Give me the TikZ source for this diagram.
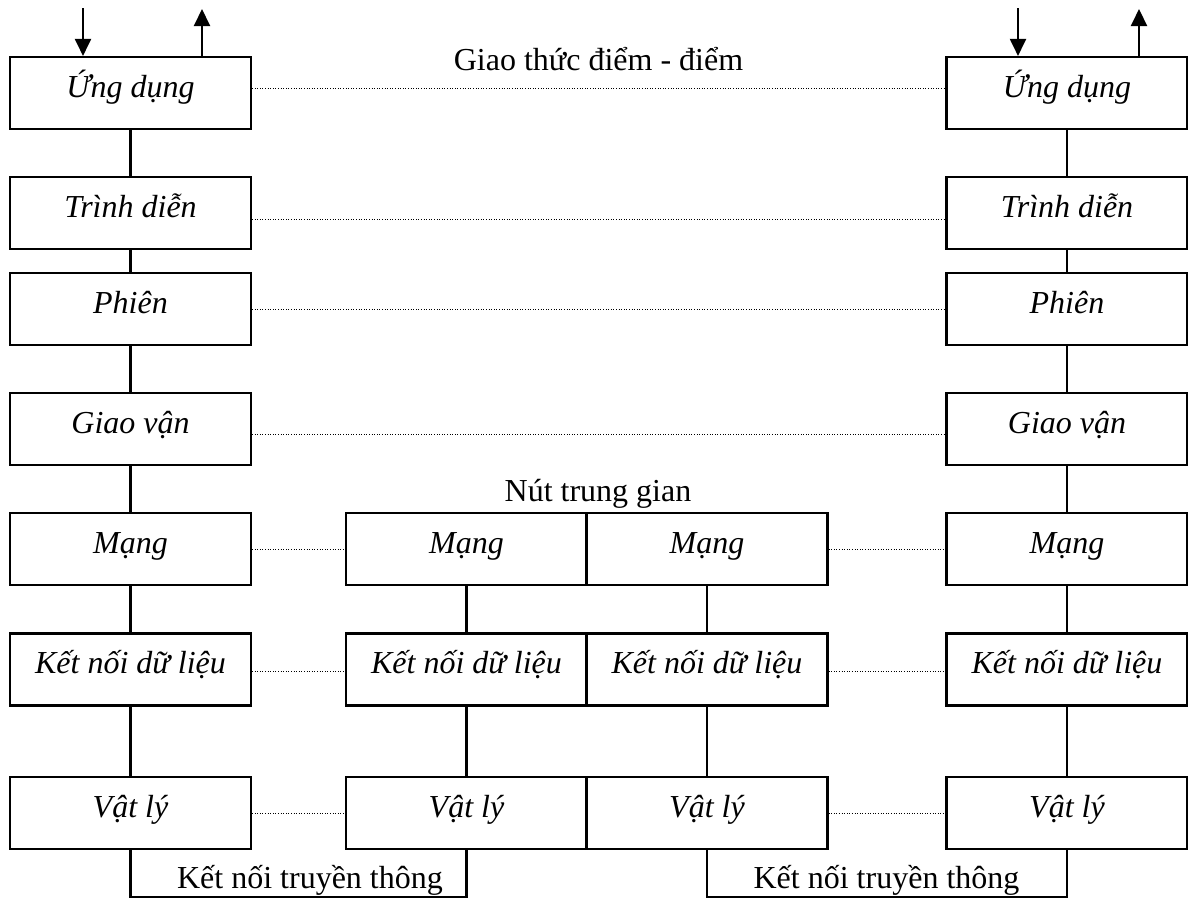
\documentclass[tikz,border=0pt]{standalone}
\usepackage{fontspec}
\setmainfont{Liberation Serif}
\usetikzlibrary{arrows.meta}
\begin{document}
\begin{tikzpicture}[x=1pt,y=-1pt,
  layer/.style={draw, line width=2.1pt, minimum width=241pt, minimum height=72pt,
    inner sep=0pt, font=\fontsize{32}{38}\selectfont\itshape,
    text height=14pt, text depth=6pt},
  peer/.style={line width=1pt, dash pattern=on 1pt off 1.6pt},
  link/.style={line width=2.1pt},
  flow/.style={line width=2pt, -{Triangle[width=16pt,length=17pt]}},
  caption/.style={font=\fontsize{32}{38}\selectfont, inner sep=0pt, anchor=base}]
\useasboundingbox (0,0) rectangle (1188,897);

% end systems: left stack A, right stack B
\foreach \n/\t/\y in {1/Ứng dụng/93, 2/Trình diễn/213, 3/Phiên/309, 4/Giao vận/429,
                      5/Mạng/549, 6/Kết nối dữ liệu/669.5, 7/Vật lý/813} {
  \node[layer] (A\n) at (130.5,\y) {\t};
  \node[layer] (B\n) at (1067,\y) {\t};
}
% intermediate node: two half stacks C and D
\foreach \n/\t/\y in {5/Mạng/549, 6/Kết nối dữ liệu/669.5, 7/Vật lý/813} {
  \node[layer] (C\n) at (466.5,\y) {\t};
  \node[layer] (D\n) at (707,\y) {\t};
}

% vertical links inside each stack
\foreach \s in {A,B} {
  \foreach \a/\b in {1/2,2/3,3/4,4/5,5/6,6/7}
    \draw[link] (\s\a.south) -- (\s\b.north);
}
\foreach \s in {C,D} {
  \foreach \a/\b in {5/6,6/7}
    \draw[link] (\s\a.south) -- (\s\b.north);
}

% peer protocols
\draw[peer] ([yshift=5pt]A1.east) -- ([yshift=5pt]B1.west);
\draw[peer] ([yshift=-6pt]A2.east) -- ([yshift=-6pt]B2.west);
\draw[peer] (A3.east) -- (B3.west);
\draw[peer] ([yshift=-5pt]A4.east) -- ([yshift=-5pt]B4.west);
\draw[peer] (A5.east) -- (C5.west);
\draw[peer] (D5.east) -- (B5.west);
\draw[peer] ([yshift=-2pt]A6.east) -- ([yshift=-2pt]C6.west);
\draw[peer] ([yshift=-2pt]D6.east) -- ([yshift=-2pt]B6.west);
\draw[peer] (A7.east) -- (C7.west);
\draw[peer] (D7.east) -- (B7.west);

% data in / data out at the application layer
\coordinate (inA) at (83,8);
\coordinate (outA) at (202,9);
\coordinate (inB) at (1018,8);
\coordinate (outB) at (1139,9);
\draw[flow] (inA) -- (inA |- A1.north);
\draw[flow] (outA |- A1.north) -- (outA);
\draw[flow] (inB) -- (inB |- B1.north);
\draw[flow] (outB |- B1.north) -- (outB);

% physical media
\coordinate (floor) at (0,897.5);
\draw[link] (A7.south) -- (A7.south |- floor) -- (C7.south |- floor) -- (C7.south);
\draw[link] (D7.south) -- (D7.south |- floor) -- (B7.south |- floor) -- (B7.south);

% captions
\node[caption] (ptp) at (598.5,70) {Giao thức điểm - điểm};
\node[caption] (mid) at (598,501) {Nút trung gian};
\node[caption] (medL) at (310,888) {Kết nối truyền thông};
\node[caption] (medR) at (886.5,888) {Kết nối truyền thông};
\end{tikzpicture}
\end{document}
